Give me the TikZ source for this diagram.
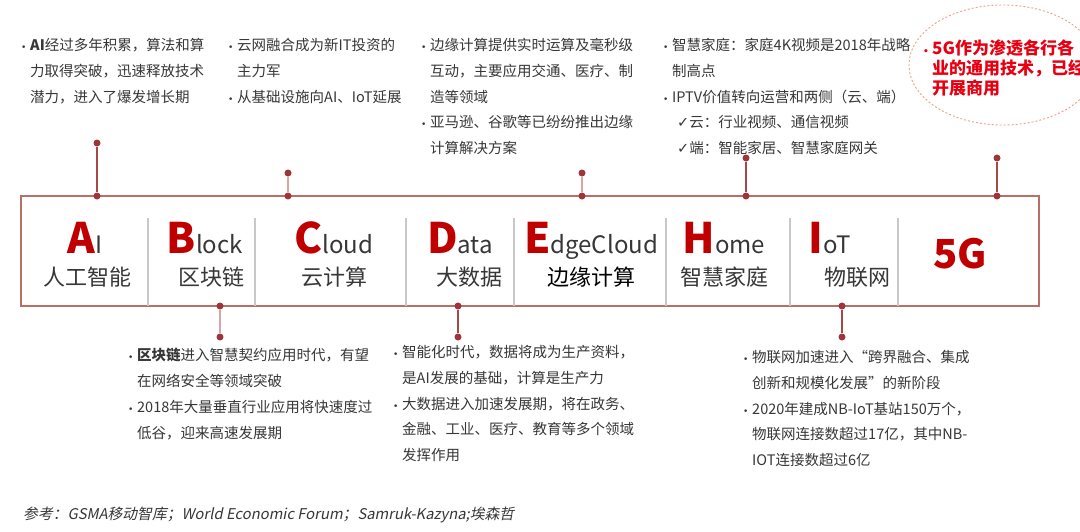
\documentclass[tikz,border=0pt]{standalone}
\usepackage{fontspec}
\setmainfont{Noto Sans CJK SC}
\newfontfamily\symfont{DejaVu Sans}
\newfontfamily\footfont[FakeSlant=0.2]{Noto Sans CJK SC}
\usetikzlibrary{calc, positioning, shapes.geometric}
\definecolor{letterred}{RGB}{192,0,0}
\definecolor{hotred}{RGB}{232,0,18}
\definecolor{boxline}{RGB}{184,112,100}
\definecolor{dotred}{RGB}{160,52,58}
\definecolor{linkdark}{RGB}{165,72,72}
\definecolor{linkpink}{RGB}{215,165,165}
\definecolor{divgray}{RGB}{200,200,200}
\definecolor{txtgray}{RGB}{55,55,55}
\definecolor{halo}{RGB}{236,160,135}
\newcommand{\bul}{\makebox[10pt][l]{\hspace{1pt}{\symfont\fontsize{9}{9}\selectfont •}}}
\newcommand{\ind}{\hspace*{10pt}}
\newcommand{\firstl}[1]{{\color{letterred}\fontsize{42}{42}\selectfont\bfseries #1}}
\newcommand{\restl}[1]{{\color{txtgray}\fontsize{24}{24}\selectfont #1}}

\begin{document}
\begin{tikzpicture}[
  x=1pt, y=-1pt,
  band/.style={draw=boxline, line width=1.1pt, minimum width=1018pt,
    minimum height=110pt, inner sep=0pt, outer sep=0pt},
  divider/.style={draw=divgray, line width=2.2pt},
  dot/.style={circle, fill=dotred, minimum size=7pt, inner sep=0pt},
  link/.style={draw=linkdark, line width=1.1pt},
  linklight/.style={draw=linkpink, line width=1.4pt},
  note/.style={anchor=north west, align=left, inner sep=0pt, text=txtgray,
    font=\fontsize{14.5}{25.8}\selectfont},
  hot/.style={note, text=hotred, font=\fontsize{17}{20}\selectfont\bfseries},
  word/.style={anchor=base, inner sep=0pt},
  cn/.style={anchor=base, inner sep=0pt, text=txtgray, font=\fontsize{22}{22}\selectfont},
  halo5g/.style={ellipse, draw=halo, line width=0.9pt, dash pattern=on 2pt off 2pt,
    minimum width=188pt, minimum height=120pt},
]
  \path[fill=white, use as bounding box] (0,0) rectangle (1080,531);

  \node[band] (band) at (530,251) {};
  \foreach \x in {148,255,406,514,666,790,898}
    \draw[divider] (\x,218) -- (\x,306);

  \node[word] (ai) at (85,253) {\firstl{A}\restl{I}};
  \node[cn] (ai-cn) at (87,285) {人工智能};
  \node[word] (blk) at (205,253) {\firstl{B}\restl{lock}};
  \node[cn] (blk-cn) at (211,285) {区块链};
  \node[word] (cld) at (334,253) {\firstl{C}\restl{loud}};
  \node[cn] (cld-cn) at (334,285) {云计算};
  \node[word] (dat) at (460,253) {\firstl{D}\restl{ata}};
  \node[cn] (dat-cn) at (469,285) {大数据};
  \node[word] (edg) at (591,253) {\firstl{E}\restl{dgeCloud}};
  \node[cn, text=black] (edg-cn) at (591,285) {边缘计算};
  \node[word] (hom) at (724,253) {\firstl{H}\restl{ome}};
  \node[cn] (hom-cn) at (724,285) {智慧家庭};
  \node[word] (iot) at (830,253) {\firstl{I}\restl{oT}};
  \node[cn] (iot-cn) at (857,285) {物联网};
  \node[word, text=letterred, font=\fontsize{40}{40}\selectfont\bfseries] (fiveg) at (960,268) {5G};

  \node[dot] (ai-t) at (97,143) {};
  \node[dot] (ai-e) at (ai-t |- band.north) {};
  \draw[link] (ai-t) -- (ai-e);
  \node[dot] (cld-t) at (288,173) {};
  \node[dot] (cld-e) at (cld-t |- band.north) {};
  \draw[linklight] (cld-t) -- (cld-e);
  \node[dot] (edg-t) at (582,173) {};
  \node[dot] (edg-e) at (edg-t |- band.north) {};
  \draw[linklight] (edg-t) -- (edg-e);
  \node[dot] (hom-t) at (746,158) {};
  \node[dot] (hom-e) at (hom-t |- band.north) {};
  \draw[link] (hom-t) -- (hom-e);
  \node[dot] (fiveg-t) at (997,158) {};
  \node[dot] (fiveg-e) at (fiveg-t |- band.north) {};
  \draw[link] (fiveg-t) -- (fiveg-e);
  \node[dot] (blk-b) at (220,337) {};
  \node[dot] (blk-e) at (blk-b |- band.south) {};
  \draw[linklight] (blk-e) -- (blk-b);
  \node[dot] (dat-b) at (458,337) {};
  \node[dot] (dat-e) at (dat-b |- band.south) {};
  \draw[link] (dat-e) -- (dat-b);
  \node[dot] (iot-b) at (842,337) {};
  \node[dot] (iot-e) at (iot-b |- band.south) {};
  \draw[link] (iot-e) -- (iot-b);

  \node[note] (ai-txt) at (20,38) {\bul\textbf{AI}经过多年积累，算法和算\\\ind 力取得突破，迅速释放技术\\\ind 潜力，进入了爆发增长期};
  \node[note] (cld-txt) at (227,38) {\bul 云网融合成为新IT投资的\\\ind 主力军\\\bul 从基础设施向AI、IoT延展};
  \node[note] (edg-txt) at (420,38) {\bul 边缘计算提供实时运算及毫秒级\\\ind 互动，主要应用交通、医疗、制\\\ind 造等领域\\\bul 亚马逊、谷歌等已纷纷推出边缘\\\ind 计算解决方案};
  \node[note] (hom-txt) at (662,38) {\bul 智慧家庭：家庭4K视频是2018年战略\\\ind 制高点\\\bul IPTV价值转向运营和两侧（云、端）\\\ind\hspace*{5pt}{\symfont ✓}云：行业视频、通信视频\\\ind\hspace*{5pt}{\symfont ✓}端：智能家居、智慧家庭网关};
  \node[halo5g] (fiveg-halo) at (1003,65) {};
  \node[hot] (fiveg-txt) at (922,40) {\bul 5G作为渗透各行各\\\ind 业的通用技术，已经\\\ind 开展商用};

  \node[note] (blk-txt) at (127,348) {\bul\textbf{区块链}进入智慧契约应用时代，有望\\\ind 在网络安全等领域突破\\\bul 2018年大量垂直行业应用将快速度过\\\ind 低谷，迎来高速发展期};
  \node[note] (dat-txt) at (392,345) {\bul 智能化时代，数据将成为生产资料，\\\ind 是AI发展的基础，计算是生产力\\\bul 大数据进入加速发展期，将在政务、\\\ind 金融、工业、医疗、教育等多个领域\\\ind 发挥作用};
  \node[note] (iot-txt) at (742,350) {\bul 物联网加速进入“跨界融合、集成\\\ind 创新和规模化发展”的新阶段\\\bul 2020年建成NB-IoT基站150万个，\\\ind 物联网连接数超过17亿，其中NB-\\\ind IOT连接数超过6亿};

  \node[anchor=base west, inner sep=0pt, text=txtgray, font=\footfont\fontsize{14.8}{16}\selectfont] (source) at (23,519) {参考：GSMA移动智库；World Economic Forum；Samruk-Kazyna;埃森哲};
\end{tikzpicture}
\end{document}
